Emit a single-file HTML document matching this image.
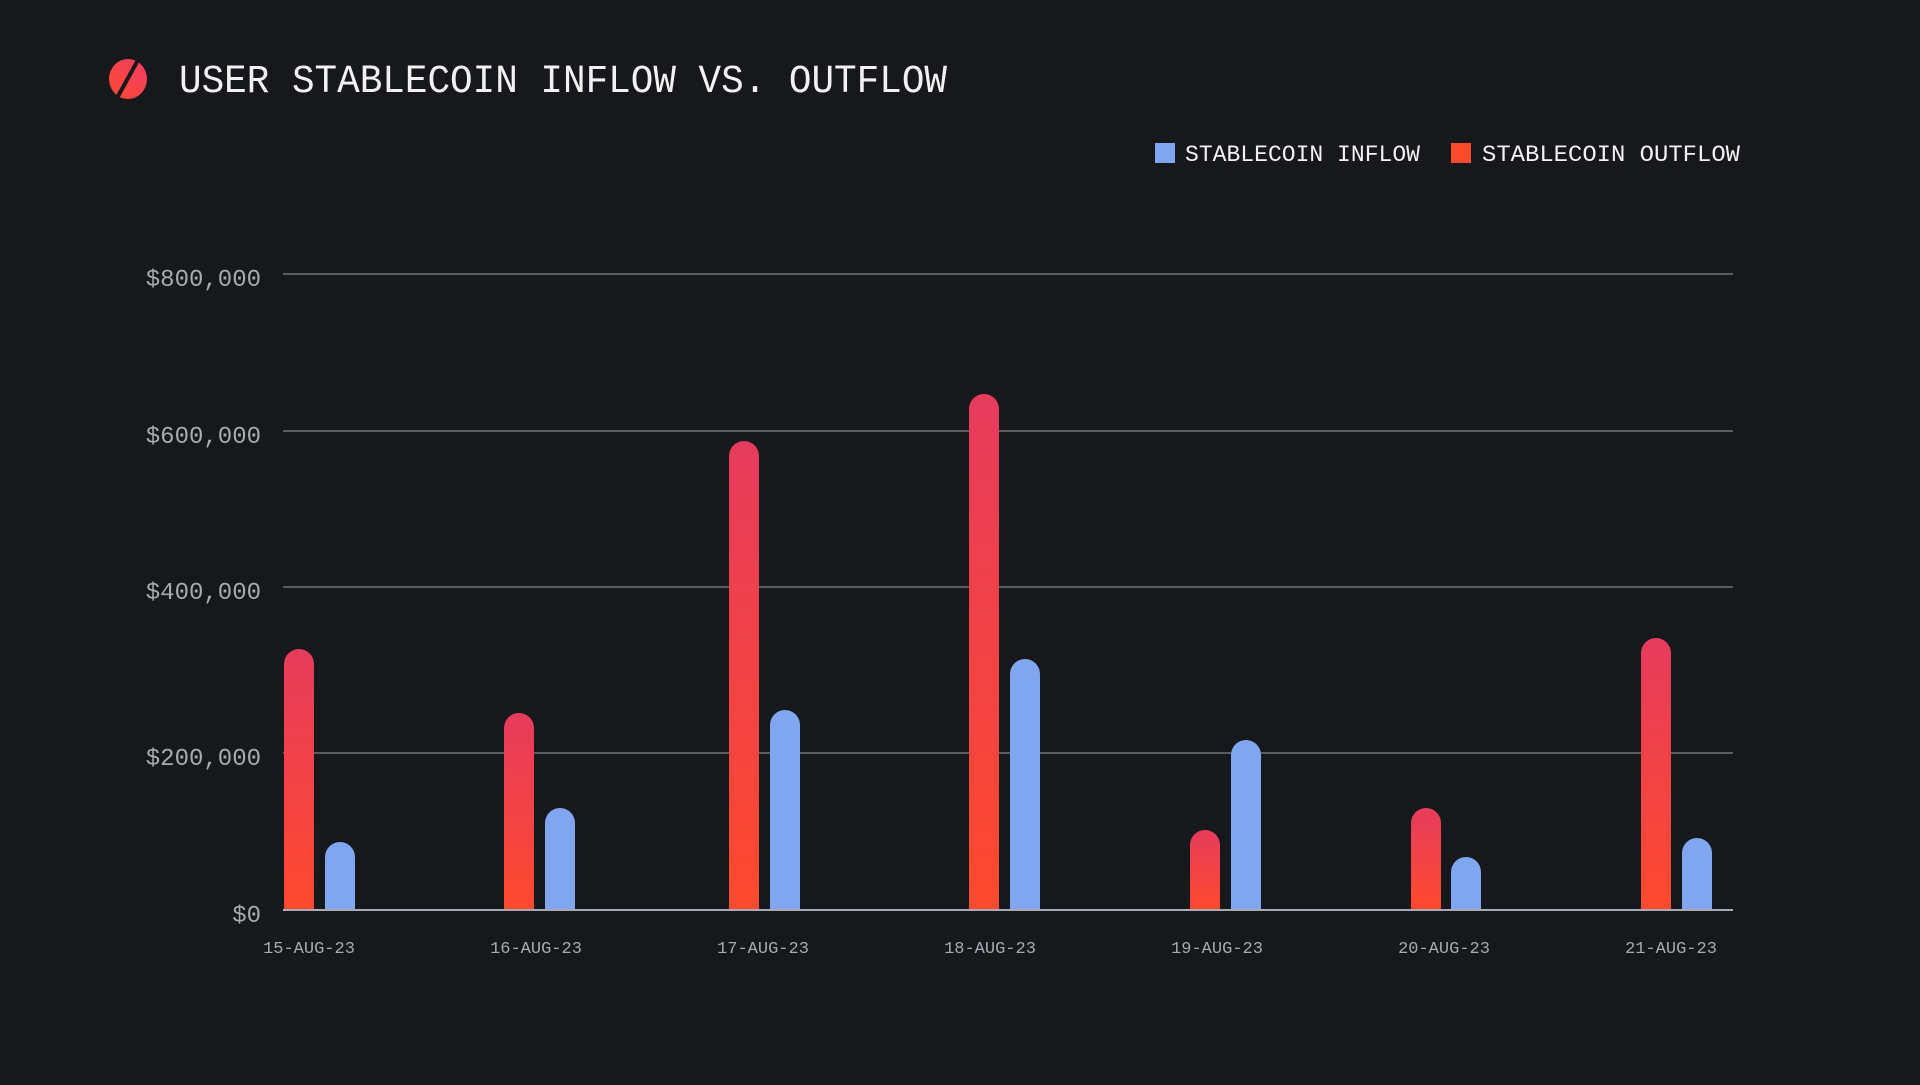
<!DOCTYPE html>
<html><head><meta charset="utf-8"><style>
html,body{margin:0;padding:0;background:#17181c;}
body{width:1920px;height:1080px;overflow:hidden;}
</style></head><body>
<svg width="1920" height="1080" xmlns="http://www.w3.org/2000/svg" font-family="Liberation Mono, monospace">
<defs>
<linearGradient id="rg" x1="0" y1="0" x2="0" y2="1"><stop offset="0" stop-color="#e63b5c"/><stop offset="1" stop-color="#ff4a2e"/></linearGradient>
<linearGradient id="lg" x1="0" y1="1" x2="1" y2="0"><stop offset="0" stop-color="#ff4a2e"/><stop offset="1" stop-color="#ee3d66"/></linearGradient>
</defs>
<rect width="1920" height="1080" fill="#17181c"/>
<ellipse cx="128" cy="79" rx="19" ry="20" fill="url(#lg)"/>
<line x1="138" y1="60" x2="117" y2="98" stroke="#17181c" stroke-width="4"/>
<text x="179" y="92" font-size="40" fill="#f2f2f2" textLength="768" lengthAdjust="spacingAndGlyphs">USER STABLECOIN INFLOW VS. OUTFLOW</text>
<rect x="1155" y="143" width="20" height="20" fill="#7fa6ef"/>
<text x="1185" y="161" font-size="23" fill="#f2f2f2" textLength="235" lengthAdjust="spacingAndGlyphs">STABLECOIN INFLOW</text>
<rect x="1451" y="143" width="20" height="20" fill="#ff4a2e"/>
<text x="1482" y="161" font-size="23" fill="#f2f2f2" textLength="258" lengthAdjust="spacingAndGlyphs">STABLECOIN OUTFLOW</text>
<g stroke="#5a5c62" stroke-width="2">
<line x1="283" y1="274" x2="1733" y2="274"/>
<line x1="283" y1="431" x2="1733" y2="431"/>
<line x1="283" y1="587" x2="1733" y2="587"/>
<line x1="283" y1="753" x2="1733" y2="753"/>
</g>
<g font-size="24" fill="#a8aab2" text-anchor="end">
<text x="261" y="286">$800,000</text>
<text x="261" y="443">$600,000</text>
<text x="261" y="599">$400,000</text>
<text x="261" y="765">$200,000</text>
<text x="261" y="922">$0</text>
</g>
<g fill="url(#rg)">
<path d="M284 910V664a15 15 0 0 1 30 0V910Z"/>
<path d="M504 910V728a15 15 0 0 1 30 0V910Z"/>
<path d="M729 910V456a15 15 0 0 1 30 0V910Z"/>
<path d="M969 910V409a15 15 0 0 1 30 0V910Z"/>
<path d="M1190 910V845a15 15 0 0 1 30 0V910Z"/>
<path d="M1411 910V823a15 15 0 0 1 30 0V910Z"/>
<path d="M1641 910V653a15 15 0 0 1 30 0V910Z"/>
</g>
<g fill="#7fa6ef">
<path d="M325 910V857a15 15 0 0 1 30 0V910Z"/>
<path d="M545 910V823a15 15 0 0 1 30 0V910Z"/>
<path d="M770 910V725a15 15 0 0 1 30 0V910Z"/>
<path d="M1010 910V674a15 15 0 0 1 30 0V910Z"/>
<path d="M1231 910V755a15 15 0 0 1 30 0V910Z"/>
<path d="M1451 910V872a15 15 0 0 1 30 0V910Z"/>
<path d="M1682 910V853a15 15 0 0 1 30 0V910Z"/>
</g>
<line x1="283" y1="910" x2="1733" y2="910" stroke="#a8aab6" stroke-width="2"/>
<g font-size="17" fill="#a8aab2" text-anchor="middle">
<text x="309" y="953">15-AUG-23</text>
<text x="536" y="953">16-AUG-23</text>
<text x="763" y="953">17-AUG-23</text>
<text x="990" y="953">18-AUG-23</text>
<text x="1217" y="953">19-AUG-23</text>
<text x="1444" y="953">20-AUG-23</text>
<text x="1671" y="953">21-AUG-23</text>
</g>
</svg>
</body></html>
